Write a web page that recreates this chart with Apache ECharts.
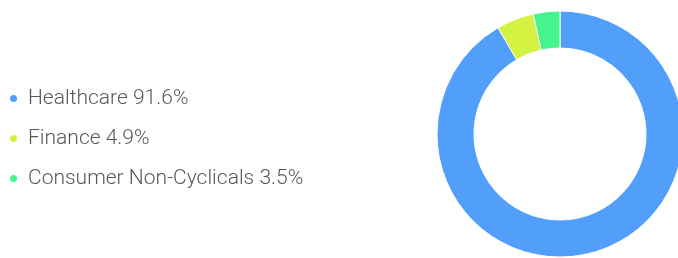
<!DOCTYPE html>
<html>
<head>
<meta charset="utf-8">
<script src="https://cdn.jsdelivr.net/npm/echarts@6/dist/echarts.min.js"></script>
<style>
  html, body { margin: 0; padding: 0; background: #fff; }
  #chart { width: 678px; height: 258px; }
</style>
</head>
<body>
<div id="chart"></div>
<script>
const sectors = ['Healthcare', 'Finance', 'Consumer Non-Cyclicals']
const shares = [91.6, 4.9, 3.5]
const colors = ['#519ffb', '#d4f242', '#45f48b']

const chart = echarts.init(document.getElementById('chart'))

const data = sectors.map((name, i) => ({ name, value: shares[i] }))

chart.setOption({
  animation: false,
  color: colors,
  legend: {
    orient: 'vertical',
    left: 3,
    top: 83,
    icon: 'circle',
    itemWidth: 9,
    itemHeight: 9,
    itemGap: 19,
    formatter: (name) => name + ' ' + shares[sectors.indexOf(name)] + '%',
    textStyle: {
      fontFamily: 'Roboto',
      fontWeight: 300,
      fontSize: 21,
      color: '#585858',
      padding: [0, 0, 0, 5]
    }
  },
  series: [
    {
      type: 'pie',
      center: [560, 134],
      radius: [86, 123],
      startAngle: 90,
      clockwise: true,
      label: { show: false },
      labelLine: { show: false },
      itemStyle: { borderColor: '#fff', borderWidth: 1 },
      emphasis: { disabled: true },
      data: data
    }
  ]
})
</script>
</body>
</html>
